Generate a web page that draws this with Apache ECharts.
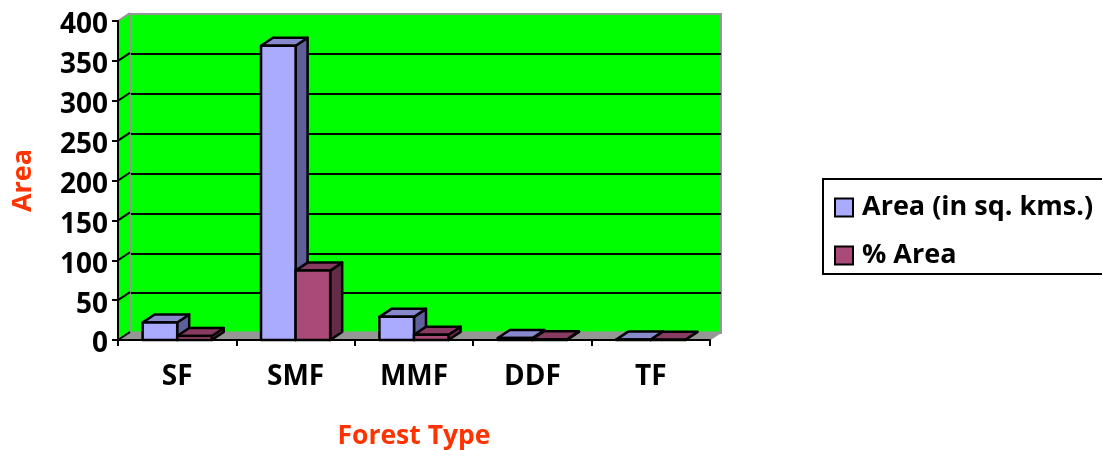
<!DOCTYPE html>
<html>
<head>
<meta charset="utf-8">
<style>html,body{margin:0;padding:0;background:#fff}#chart{width:1102px;height:450px}</style>
<script src="https://cdn.jsdelivr.net/npm/echarts@6/dist/echarts.min.js"></script>
</head>
<body>
<div id="chart"></div>
<script>
// Forest type areas
const categories = ['SF', 'SMF', 'MMF', 'DDF', 'TF'];
const areaValues = [22, 369, 29, 2.5, 0.5];
const percentValues = [5, 87, 6.5, 1, 0.3];
const FONT = '"Open Sans","DejaVu Sans",sans-serif';

// Pseudo-3D depth of the plot box, in pixels
const DEPTH_X = 12, DEPTH_Y = 8;
const BAR_RATIO = 0.292;

function barRenderer(side, face, top, flank) {
  return function (params, api) {
    const cat = api.value(0), val = api.value(1);
    const w = api.size([1, 0])[0] * BAR_RATIO;
    const c = api.coord([cat, val]);
    const b = api.coord([cat, 0]);
    const x0 = c[0] + (side < 0 ? -w : 0), x1 = x0 + w;
    const yT = c[1], yB = b[1];
    const line = { stroke: '#000', lineWidth: 2.5, lineJoin: 'round' };
    const poly = (points, fill) => ({
      type: 'polygon', shape: { points }, style: Object.assign({ fill }, line)
    });
    return {
      type: 'group',
      children: [
        poly([[x1, yT], [x1 + DEPTH_X, yT - DEPTH_Y], [x1 + DEPTH_X, yB - DEPTH_Y], [x1, yB]], flank),
        poly([[x0, yT], [x0 + DEPTH_X, yT - DEPTH_Y], [x1 + DEPTH_X, yT - DEPTH_Y], [x1, yT]], top),
        poly([[x0, yT], [x1, yT], [x1, yB], [x0, yB]], face)
      ]
    };
  };
}

// Left wall and floor, joined to the back wall at each y tick
function shellRenderer(params, api) {
  const s = params.coordSys;
  const l = s.x, r = s.x + s.width, t = s.y, b = s.y + s.height;
  const children = [
    { type: 'polygon', shape: { points: [[l, t], [l + DEPTH_X, t - DEPTH_Y], [l + DEPTH_X, b - DEPTH_Y], [l, b]] },
      style: { fill: '#00ff00', stroke: null } },
    { type: 'polygon', shape: { points: [[l, b], [l + DEPTH_X, b - DEPTH_Y], [r + DEPTH_X, b - DEPTH_Y], [r, b]] },
      style: { fill: '#969696', stroke: '#969696', lineWidth: 1 } },
    { type: 'line', shape: { x1: l, y1: t, x2: l + DEPTH_X, y2: t - DEPTH_Y },
      style: { stroke: '#969696', lineWidth: 2 } },
    { type: 'line', shape: { x1: l + DEPTH_X, y1: t - DEPTH_Y, x2: l + DEPTH_X, y2: b - DEPTH_Y },
      style: { stroke: '#969696', lineWidth: 2 } }
  ];
  for (let v = 0; v < 400; v += 50) {
    const y = api.coord([0, v])[1];
    children.push({ type: 'line', shape: { x1: l, y1: y, x2: l + DEPTH_X, y2: y - DEPTH_Y },
      style: { stroke: '#000', lineWidth: 2 } });
  }
  return { type: 'group', children };
}

const boldText = { fontFamily: FONT, fontWeight: 'bold', color: '#000' };

const chart = echarts.init(document.getElementById('chart'), null, { renderer: 'canvas' });
chart.setOption({
  animation: false,
  backgroundColor: '#fff',
  grid: [
    { left: 118, top: 21, width: 592, height: 319, outerBoundsMode: 'none', containLabel: false },
    { left: 130, top: 14, width: 591, height: 319, show: true, backgroundColor: '#00ff00',
      borderColor: '#969696', borderWidth: 2, outerBoundsMode: 'none', containLabel: false }
  ],
  legend: {
    orient: 'vertical', left: 823, top: 179,
    padding: [15, 40, 5, 11], itemGap: 21, itemWidth: 18, itemHeight: 18,
    borderColor: '#000', borderWidth: 2, backgroundColor: '#fff',
    icon: 'rect',
    textStyle: Object.assign({ fontSize: 27, padding: [0, 0, 0, 4] }, boldText),
    data: ['Area (in sq. kms.)', '% Area']
  },
  xAxis: [
    { type: 'category', gridIndex: 0, data: categories, z: 5,
      axisLine: { lineStyle: { color: '#000', width: 2 } },
      axisTick: { show: true, length: 6, lineStyle: { color: '#000', width: 2 } },
      axisLabel: Object.assign({ fontSize: 28, margin: 23 }, boldText),
      name: 'Forest Type', nameLocation: 'middle', nameGap: 83,
      nameTextStyle: { fontFamily: FONT, fontWeight: 'bold', fontSize: 26.5, color: '#ff3300' } },
    { type: 'category', gridIndex: 1, data: categories, show: false }
  ],
  yAxis: [
    { type: 'value', gridIndex: 0, min: 0, max: 400, interval: 50, z: 5,
      axisLine: { show: true, lineStyle: { color: '#000', width: 2 } },
      axisTick: { show: true, length: 6, lineStyle: { color: '#000', width: 2 } },
      splitLine: { show: false },
      axisLabel: {
        margin: 10, formatter: '{v|{value}}',
        rich: { v: Object.assign({ fontSize: 28, padding: [9, 0, 0, 0] }, boldText) }
      },
      name: 'Area', nameLocation: 'middle', nameGap: 81,
      nameTextStyle: { fontFamily: FONT, fontWeight: 'bold', fontSize: 27, color: '#ff3300' } },
    { type: 'value', gridIndex: 1, min: 0, max: 400, interval: 50,
      axisLine: { show: false }, axisTick: { show: false }, axisLabel: { show: false },
      splitLine: { show: true, showMinLine: false, showMaxLine: false, lineStyle: { color: '#000', width: 2 } } }
  ],
  series: [
    { type: 'custom', name: 'shell', xAxisIndex: 0, yAxisIndex: 0, z: 2, silent: true, clip: false,
      renderItem: shellRenderer, data: [[0, 0]] },
    { type: 'custom', name: 'Area (in sq. kms.)', xAxisIndex: 0, yAxisIndex: 0, z: 3, clip: false,
      itemStyle: { color: '#aaaaff', borderColor: '#000', borderWidth: 2 },
      renderItem: barRenderer(-1, '#aaaaff', '#8888cc', '#5f5f99'),
      encode: { x: 0, y: 1 },
      data: areaValues.map((v, i) => [i, v]) },
    { type: 'custom', name: '% Area', xAxisIndex: 0, yAxisIndex: 0, z: 4, clip: false,
      itemStyle: { color: '#aa4a78', borderColor: '#000', borderWidth: 2 },
      renderItem: barRenderer(1, '#aa4a78', '#883b60', '#642c48'),
      encode: { x: 0, y: 1 },
      data: percentValues.map((v, i) => [i, v]) }
  ]
});
</script>
</body>
</html>
